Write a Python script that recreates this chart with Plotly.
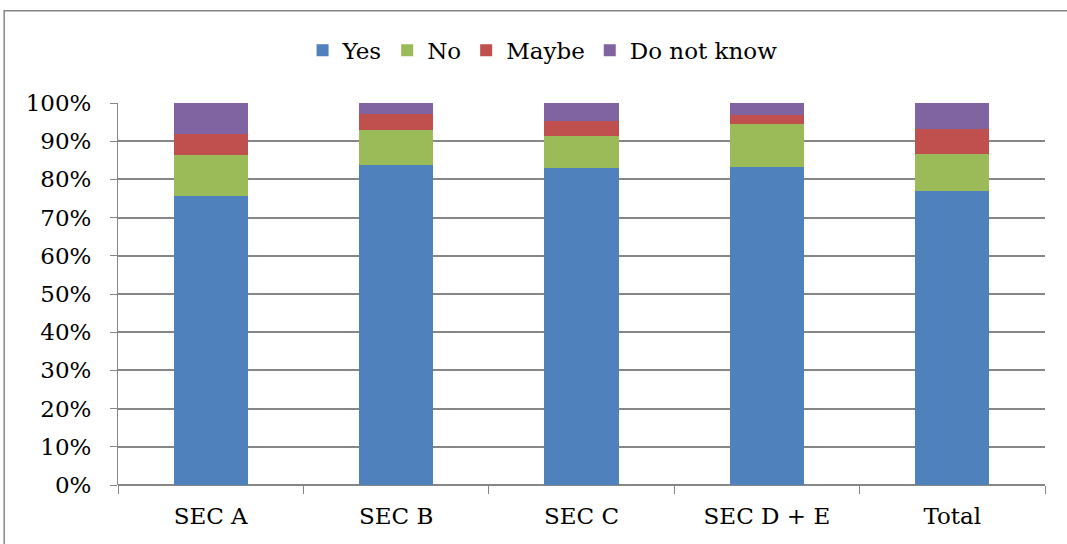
import plotly.graph_objects as go

categories = ["SEC A", "SEC B", "SEC C", "SEC D + E", "Total"]
yes = [75.7, 83.8, 83.0, 83.2, 76.9]
no = [10.8, 9.2, 8.3, 11.3, 9.8]
maybe = [5.4, 4.1, 4.0, 2.4, 6.5]
dnk = [8.1, 2.9, 4.7, 3.1, 6.8]

series = [("Yes", yes, "#4F81BD"), ("No", no, "#9BBB59"),
          ("Maybe", maybe, "#C0504D"), ("Do not know", dnk, "#8064A2")]

fig = go.Figure()
for name, vals, col in series:
    fig.add_trace(go.Bar(x=categories, y=vals, name=name,
                         marker=dict(color=col, line=dict(width=0))))

font = "DejaVu Serif"
fig.update_layout(
    barmode="stack", bargap=0.6,
    width=1067, height=544,
    margin=dict(l=118, r=22, t=103, b=59),
    paper_bgcolor="white", plot_bgcolor="white",
    font=dict(family=font, size=23, color="black"),
    showlegend=True,
    legend=dict(orientation="h", x=0.458, xanchor="center", y=1.138, yanchor="middle",
                traceorder="normal", font=dict(family=font, size=23), itemwidth=30,
                bgcolor="rgba(0,0,0,0)"),
    xaxis=dict(showgrid=False, showline=False, ticks="outside", tickson="boundaries",
               ticklen=8, tickcolor="#868686", tickwidth=1, ticklabelstandoff=15,
               tickfont=dict(family=font, size=23)),
    yaxis=dict(range=[0, 100], dtick=10, ticksuffix="%", showgrid=True,
               gridcolor="#868686", gridwidth=1.5, showline=True, linecolor="#868686",
               linewidth=1, ticks="outside", ticklen=7, tickcolor="#868686",
               ticklabelstandoff=14, tickfont=dict(family=font, size=23), zeroline=True,
               zerolinecolor="#868686", zerolinewidth=1.5),
    shapes=[dict(type="rect", xref="paper", yref="paper",
                 x0=-0.1228, x1=1.2, y0=-0.5, y1=1.2416,
                 line=dict(color="#868686", width=1.5), fillcolor="rgba(0,0,0,0)",
                 layer="below")],
)

fig.write_html("out.html")
